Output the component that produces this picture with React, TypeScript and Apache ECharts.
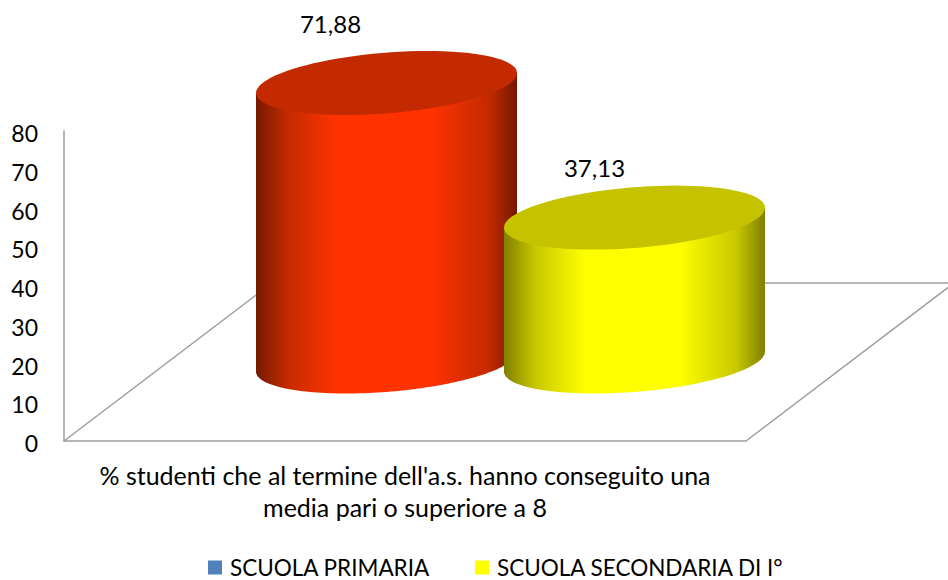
import React, { useEffect, useRef } from "react";
import * as echarts from "echarts";

const categories = ["% studenti che al termine dell'a.s. hanno conseguito una\nmedia pari o superiore a 8"];
const seriesNames = ["SCUOLA PRIMARIA", "SCUOLA SECONDARIA DI I°"];
const primariaValues = [71.88];
const secondariaValues = [37.13];
const legendColors = ["#4F81BD", "#FFFF00"];
const sideColors = [
  ["#751800", "#C42A00", "#FF3300"],
  ["#7F7F00", "#C8C800", "#FFFF00"],
];
const topColors = ["#C42A00", "#C5C300"];

const FONT = "Lato";
const LINE = "#9E9E9E";
const GRID = { left: 64, right: 202, top: 131, bottom: 139 };
const DEPTH_X = 105.5;
const DEPTH_Y = 79.5;
const HALF_SPACING = 124;
const RX = 130.5;
const RY = 30.4;
const SHEAR = -10;
const LABEL_OFFSET = [
  [-56, -59],
  [-40, -50],
];

function ellipseArc(cx: number, cy: number, from: number, to: number) {
  const pts: number[][] = [];
  const n = 90;
  for (let i = 0; i <= n; i++) {
    const t = from + ((to - from) * i) / n;
    pts.push([cx + RX * Math.cos(t), cy + SHEAR * Math.cos(t) + RY * Math.sin(t)]);
  }
  return pts;
}

function cylinder(index: number) {
  return (_params: any, api: any) => {
    const value = api.value(1) as number;
    const base = api.coord([api.value(0), 0]);
    const top = api.coord([api.value(0), value]);
    const cx = base[0] + DEPTH_X + (index === 0 ? -HALF_SPACING : HALF_SPACING);
    const baseY = base[1] - DEPTH_Y;
    const topY = top[1] - DEPTH_Y;
    const front = ellipseArc(cx, baseY, Math.PI, 0);
    const side = [[cx - RX, topY - SHEAR], ...front, [cx + RX, topY + SHEAR]];
    const [edge, mid, bright] = sideColors[index];
    return {
      type: "group",
      children: [
        {
          type: "polygon",
          shape: { points: side },
          style: {
            fill: new echarts.graphic.LinearGradient(0, 0, 1, 0, [
              { offset: 0, color: edge },
              { offset: 0.12, color: mid },
              { offset: 0.31, color: bright },
              { offset: 0.67, color: bright },
              { offset: 0.89, color: mid },
              { offset: 1, color: edge },
            ]),
          },
        },
        {
          type: "polygon",
          shape: { points: ellipseArc(cx, topY, 0, Math.PI * 2) },
          style: { fill: topColors[index] },
        },
        {
          type: "text",
          x: cx + LABEL_OFFSET[index][0],
          y: topY + LABEL_OFFSET[index][1],
          style: {
            text: value.toFixed(2).replace(".", ","),
            font: `24px ${FONT}`,
            fill: "#000",
            align: "center",
            verticalAlign: "middle",
          },
        },
      ],
    };
  };
}

export default function App() {
  const ref = useRef<HTMLDivElement>(null);
  useEffect(() => {
    const chart = echarts.init(ref.current!, null, { renderer: "svg" });
    chart.setOption({
      animation: false,
      backgroundColor: "#fff",
      textStyle: { fontFamily: FONT },
      grid: GRID,
      graphic: [
        {
          type: "polyline",
          silent: true,
          shape: { points: [[64, 441], [272, 283], [954, 283], [746, 441]] },
          style: { stroke: LINE, lineWidth: 1.5, fill: "none" },
        },
      ],
      legend: {
        left: 208,
        top: 556,
        padding: 0,
        itemWidth: 14,
        itemHeight: 14,
        itemGap: 45,
        selectedMode: false,
        textStyle: { fontFamily: FONT, fontSize: 22.5, lineHeight: 22, color: "#000", padding: [0, 0, 0, 3] },
        data: seriesNames.map((name, i) => ({
          name,
          icon: "rect",
          itemStyle: { color: legendColors[i] },
        })),
      },
      xAxis: {
        type: "category",
        data: categories,
        axisLine: { lineStyle: { color: LINE, width: 1.5 } },
        axisTick: { show: false },
        axisLabel: {
          fontFamily: FONT,
          fontSize: 25,
          color: "#000",
          lineHeight: 32,
          margin: 18,
          interval: 0,
        },
      },
      yAxis: {
        type: "value",
        min: 0,
        max: 80,
        interval: 10,
        splitLine: { show: false },
        axisTick: { show: false },
        axisLine: { show: true, lineStyle: { color: LINE, width: 1.5 } },
        axisLabel: {
          color: "#000",
          margin: 26,
          formatter: "{t|{value}}",
          rich: {
            t: { fontFamily: FONT, fontSize: 23, color: "#000", padding: [4, 0, 0, 0] },
          },
        },
      },
      series: [
        {
          type: "custom",
          name: seriesNames[0],
          clip: false,
          silent: true,
          itemStyle: { color: legendColors[0] },
          renderItem: cylinder(0),
          encode: { x: 0, y: 1 },
          data: primariaValues.map((v, i) => [i, v]),
        },
        {
          type: "custom",
          name: seriesNames[1],
          clip: false,
          silent: true,
          itemStyle: { color: legendColors[1] },
          renderItem: cylinder(1),
          encode: { x: 0, y: 1 },
          data: secondariaValues.map((v, i) => [i, v]),
        },
      ],
    });
    return () => chart.dispose();
  }, []);
  return (
    <div
      ref={ref}
      style={{ position: "fixed", left: 0, top: 0, width: 948, height: 580 }}
    />
  );
}
